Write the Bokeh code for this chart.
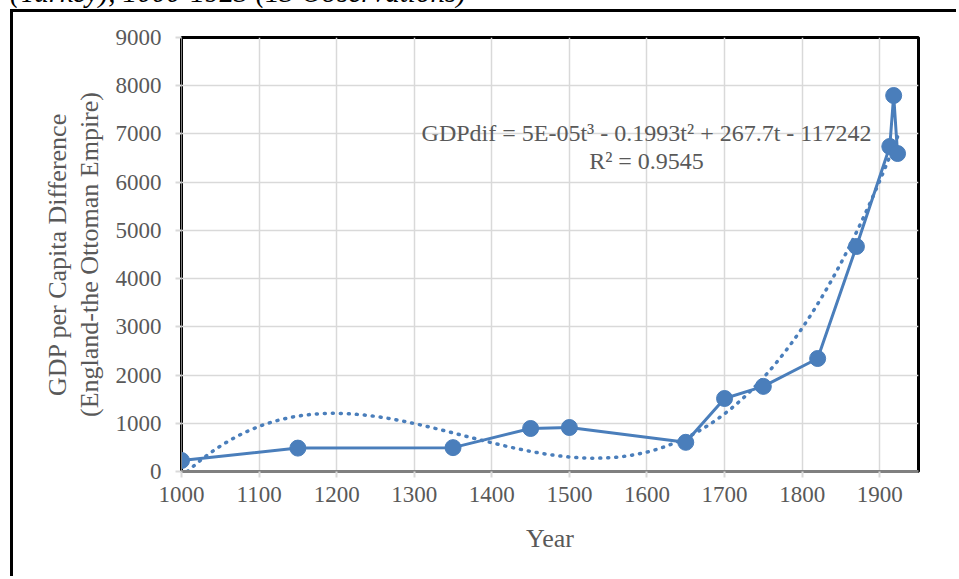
import numpy as np
from bokeh.plotting import figure
from bokeh.models import Label, FixedTicker, Range1d, Div
from bokeh.layouts import column
from bokeh.embed import file_html
from bokeh.resources import INLINE

# ---- data ----
years = [1000, 1150, 1350, 1450, 1500, 1650, 1700, 1750, 1820, 1870, 1913, 1918, 1923]
gdp_diff = [228, 485, 495, 892, 912, 605, 1514, 1765, 2343, 4666, 6740, 7797, 6594]
x_ticks = [1000, 1100, 1200, 1300, 1400, 1500, 1600, 1700, 1800, 1900]
y_ticks = [0, 1000, 2000, 3000, 4000, 5000, 6000, 7000, 8000, 9000]
title_text = "(Turkey), 1000-1923 (13 Observations)"
y_title = "GDP per Capita Difference\n(England-the Ottoman Empire)"
x_title = "Year"
eq_line1 = "GDPdif = 5E-05t\u00b3 - 0.1993t\u00b2 + 267.7t - 117242"
eq_line2 = "R\u00b2 = 0.9545"

# ---- layout (page pixels) ----
PAGE_W, PAGE_H = 959, 579
CX, CY = 13, 12                    # where the figure canvas starts on the page
FL, FR, FT, FB = 181, 918, 37, 471  # plot frame on the page
X0, X1, Y0, Y1 = 1000, 1950, 0, 9000

def dx(px):
    return X0 + (px - FL) * (X1 - X0) / (FR - FL)

def dy(py):
    return Y0 + (FB - py) * (Y1 - Y0) / (FB - FT)

FONT = "Liberation Serif"
TXT = "#595959"
BLUE = "#4a7ebb"

W, H = PAGE_W - CX, PAGE_H - CY
p = figure(width=W, height=H, output_backend="svg", toolbar_location=None,
           x_range=Range1d(X0, X1), y_range=Range1d(Y0, Y1),
           min_border_left=FL - CX, min_border_right=PAGE_W - FR,
           min_border_top=FT - CY, min_border_bottom=PAGE_H - FB)
p.styles = {"margin-left": f"{CX}px", "box-shadow": "-3px -3px 0px 0px black"}
p.background_fill_color = "white"
p.border_fill_color = "white"
p.outline_line_color = "black"
p.outline_line_width = 3

p.xaxis.ticker = FixedTicker(ticks=x_ticks)
p.yaxis.ticker = FixedTicker(ticks=y_ticks)
for ax in (p.xaxis, p.yaxis):
    ax.major_label_text_font = FONT
    ax.major_label_text_font_size = "23px"
    ax.major_label_text_color = TXT
    ax.major_tick_line_color = "#d9d9d9"
    ax.major_tick_line_width = 2
    ax.major_tick_out = 6
    ax.major_tick_in = 0
    ax.minor_tick_line_color = None
    ax.axis_label_text_font = FONT
    ax.axis_label_text_font_size = "26px"
    ax.axis_label_text_font_style = "normal"
    ax.axis_label_text_color = TXT
p.xaxis.axis_line_color = "#808080"
p.xaxis.axis_line_width = 3
p.yaxis.axis_line_color = "#808080"
p.yaxis.axis_line_width = 1
p.xaxis.major_label_standoff = 9
p.yaxis.major_label_standoff = 14

p.yaxis.axis_label = y_title
p.yaxis.axis_label_text_line_height = 1.1
p.yaxis.axis_label_standoff = 9
p.xaxis.axis_label = x_title
p.xaxis.axis_label_standoff = 19

p.xgrid.ticker = FixedTicker(ticks=x_ticks)
p.ygrid.ticker = FixedTicker(ticks=y_ticks)
p.grid.grid_line_color = "#d9d9d9"
p.grid.grid_line_width = 1.5

# trendline: cubic least-squares fit of the observations
coefs = np.polyfit(years, gdp_diff, 3)
tx = np.linspace(years[0], years[-1], 400)
ty = np.polyval(coefs, tx)
p.line(tx, ty, line_color=BLUE, line_width=3.5, line_dash="1 7", line_cap="round")

p.line(years, gdp_diff, line_color=BLUE, line_width=3)
p.scatter(years, gdp_diff, size=16, fill_color=BLUE, line_color=BLUE)

# equation
p.add_layout(Label(x=dx(646), y=dy(132), text=eq_line1, text_align="center",
                   text_baseline="alphabetic", text_font=FONT,
                   text_font_size="24px", text_color=TXT))
p.add_layout(Label(x=dx(646), y=dy(160), text=eq_line2, text_align="center",
                   text_baseline="alphabetic", text_font=FONT,
                   text_font_size="24px", text_color=TXT))

# title, cut off at the top of the page as in the reference
title_html = (
    '<div style="position:relative; top:-22px; left:10px; white-space:nowrap; '
    "font-family:'Liberation Serif'; font-style:italic; font-size:29px; "
    'line-height:29px; color:black;">' + title_text + "</div>"
)
title_div = Div(text=title_html, width=PAGE_W - 20, height=CY, margin=(0, 0, 0, 0))

layout = column(title_div, p, spacing=0)
open("out.html", "w").write(file_html(layout, INLINE))
